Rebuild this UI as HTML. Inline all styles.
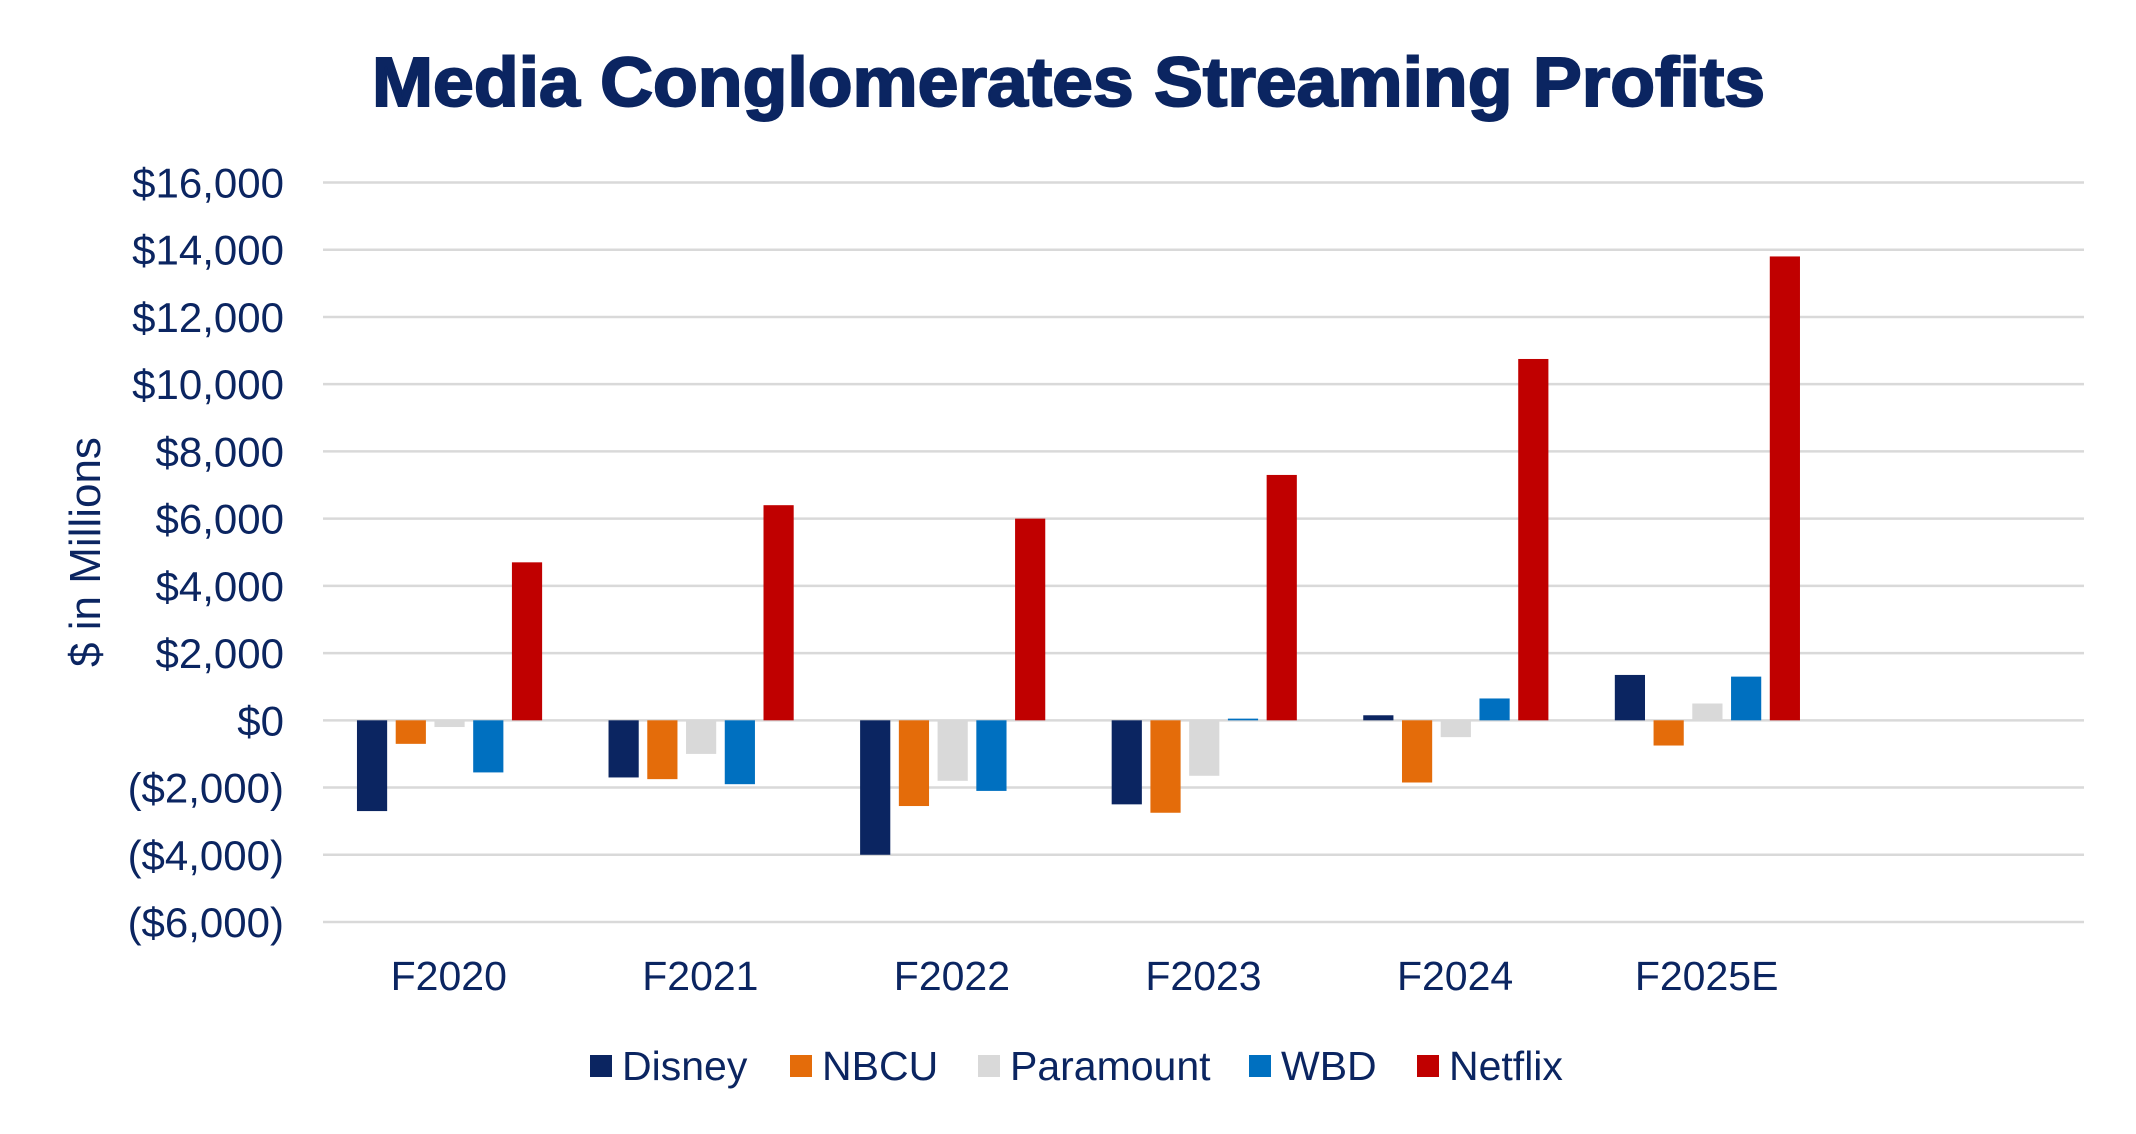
<!DOCTYPE html>
<html><head><meta charset="utf-8"><style>
html,body{margin:0;padding:0;background:#fff;}
svg{display:block;font-family:"Liberation Sans",Arial,sans-serif;}
</style></head><body>
<svg id="chart" width="2136" height="1134" viewBox="0 0 2136 1134" xmlns="http://www.w3.org/2000/svg">
<text x="372" y="106" textLength="1393" lengthAdjust="spacingAndGlyphs" font-size="70" font-weight="bold" fill="#0b2561" stroke="#0b2561" stroke-width="2">Media Conglomerates Streaming Profits</text>
<text transform="translate(100,552) rotate(-90)" text-anchor="middle" font-size="44" fill="#0b2561">$ in Millions</text>
<g id="grid"></g><g id="bars"></g><g id="ylabels"></g><g id="xlabels"></g><g id="legend"></g>
</svg>
<script>
const categories = ["F2020","F2021","F2022","F2023","F2024","F2025E",""];
const seriesNames = ["Disney","NBCU","Paramount","WBD","Netflix"];
const disney = [-2700,-1700,-4000,-2500,150,1350];
const nbcu = [-700,-1750,-2550,-2750,-1850,-750];
const paramount = [-200,-1000,-1800,-1650,-500,500];
const wbd = [-1550,-1900,-2100,50,650,1300];
const netflix = [4700,6400,6000,7300,10750,13800];
const yTicks = [16000,14000,12000,10000,8000,6000,4000,2000,0,-2000,-4000,-6000];
const yTickLabels = ["$16,000","$14,000","$12,000","$10,000","$8,000","$6,000","$4,000","$2,000","$0","($2,000)","($4,000)","($6,000)"];
const colors = ["#0b2561","#e46c0a","#d9d9d9","#0070c0","#c00000"];
const series = [disney,nbcu,paramount,wbd,netflix];
const NS="http://www.w3.org/2000/svg";
const L=323,R=2084,T=182.5,B=922,yMin=-6000,yMax=16000;
const y=v=>B-(v-yMin)/(yMax-yMin)*(B-T);
const slot=(R-L)/categories.length;
function mk(tag,attrs,parent){const e=document.createElementNS(NS,tag);for(const k in attrs)e.setAttribute(k,attrs[k]);document.getElementById(parent).appendChild(e);return e;}
yTicks.forEach((t,i)=>{
  const g=mk("line",{x1:L,x2:R,y1:y(t),y2:y(t),stroke:"#d9d9d9","stroke-width":2.5},"grid");
  
  
  const tx=mk("text",{x:284,y:y(t)+15,"text-anchor":"end","font-size":42,fill:"#0b2561"},"ylabels");
  tx.textContent=yTickLabels[i];
  
  
});
const bw=slot*0.12, step=slot*0.154, off=slot*0.195;
categories.forEach((c,ci)=>{
  if(c){
    const tx=mk("text",{x:L+slot*ci+slot*0.5,y:990,"text-anchor":"middle","font-size":41,fill:"#0b2561"},"xlabels");
    tx.textContent=c;
    
    
  }
  series.forEach((s,si)=>{
    if(s[ci]===undefined)return;
    const cx=L+slot*ci+off+step*si;
    const y0=y(0),y1=y(s[ci]);
    const r=mk("rect",{x:cx-bw/2,y:Math.min(y0,y1),width:bw,height:Math.abs(y1-y0),fill:colors[si]},"bars");
    
    
  });
});
const legX=[590,790,978,1249,1417];
seriesNames.forEach((n,i)=>{
  const r=mk("rect",{x:legX[i],y:1055,width:22,height:22,fill:colors[i]},"legend");
  
  
  const t=mk("text",{x:legX[i]+32,y:1080,"font-size":41,fill:"#0b2561"},"legend");
  t.textContent=n;
  
  
});
</script>
</body></html>
